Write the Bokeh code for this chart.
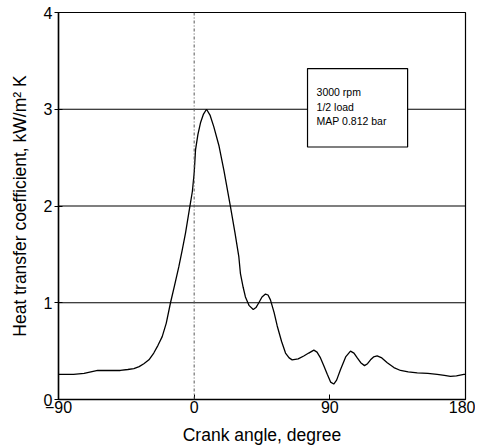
from bokeh.plotting import figure
from bokeh.models import FixedTicker, Span, BoxAnnotation, Label, Range1d
from bokeh.embed import file_html
from bokeh.resources import INLINE

crank_angle = [-90, -80, -73, -64, -56, -49, -44, -40, -36.5, -33.4, -30, -26.8, -24, -21.2, -18.5, -15.7, -13,
               -10.2, -8, -5.75, -2.9, -1.2, 0, 0.9, 2.5, 4.2, 6.2, 8.2, 10.5, 13, 16.5, 19.7, 24.1, 27, 29.6,
               30.7, 32.5, 34, 36.5, 39.2, 41, 42.9, 45, 47.3, 49, 50.6, 53, 55.1, 58, 60.6, 63, 65, 69, 72.7,
               76, 79.4, 81.5, 83.8, 86, 88.3, 90.5, 92.6, 94.5, 97.1, 100.5, 103.7, 106, 108.2, 110.5, 113,
               115, 117, 119, 121.4, 124.5, 128.1, 132.5, 136.9, 142, 148, 155, 161.2, 166, 170, 174, 178.9, 180]
htc = [0.26, 0.26, 0.27, 0.30, 0.30, 0.30, 0.31, 0.32, 0.34, 0.37, 0.41, 0.48, 0.56, 0.65, 0.79, 1.00, 1.18,
       1.37, 1.54, 1.72, 1.99, 2.15, 2.34, 2.58, 2.74, 2.86, 2.95, 3.00, 2.94, 2.82, 2.62, 2.37, 1.99, 1.73, 1.48,
       1.30, 1.16, 1.06, 0.97, 0.93, 0.95, 1.00, 1.06, 1.09, 1.08, 1.03, 0.90, 0.76, 0.60, 0.48, 0.43, 0.41, 0.42, 0.45,
       0.48, 0.51, 0.49, 0.43, 0.35, 0.26, 0.18, 0.16, 0.20, 0.31, 0.44, 0.50, 0.48, 0.43, 0.38, 0.35,
       0.37, 0.41, 0.44, 0.45, 0.43, 0.38, 0.33, 0.30, 0.285, 0.275, 0.27, 0.26, 0.25, 0.24, 0.245, 0.26, 0.26]

x_ticks = [-90, 0, 90, 180]
y_ticks = [0, 1, 2, 3, 4]
grid_levels = [1, 2, 3]
note_lines = ["3000 rpm", "1/2 load", "MAP 0.812 bar"]

FONT = "Liberation Sans"

p = figure(width=475, height=447, output_backend="svg", toolbar_location=None,
           x_range=Range1d(-90, 180), y_range=Range1d(0, 4),
           min_border_left=58, min_border_right=10, min_border_top=12, min_border_bottom=47)
p.xgrid.visible = False
p.ygrid.visible = False
p.outline_line_color = "black"
p.outline_line_width = 1.2
p.background_fill_color = "white"
p.border_fill_color = "white"

for lv in grid_levels:
    p.add_layout(Span(location=lv, dimension="width", line_color="black", line_width=1.2))
p.add_layout(Span(location=0, dimension="height", line_color="#555555", line_width=1, line_dash="3 2 1 2"))

p.line(crank_angle, htc, line_color="black", line_width=1.3)

p.add_layout(BoxAnnotation(left=75.2, right=141.6, bottom=2.61, top=3.42,
                           fill_color="white", fill_alpha=1.0, line_color="black", line_alpha=1.0,
                           line_width=1.2))
for i, t in enumerate(note_lines):
    p.add_layout(Label(x=81.2, y=3.175 - i * 0.15, text=t, text_font=FONT, text_font_size="10.5px",
                       text_color="black", text_baseline="middle"))

p.xaxis.ticker = FixedTicker(ticks=x_ticks)
p.yaxis.ticker = FixedTicker(ticks=y_ticks)
for ax in (p.xaxis[0], p.yaxis[0]):
    ax.axis_line_color = "black"
    ax.axis_line_width = 1.5
    ax.major_tick_line_color = "black"
    ax.minor_tick_line_color = None
    ax.major_label_text_font = FONT
    ax.major_label_text_font_size = "16px"
    ax.major_label_text_color = "black"
    ax.axis_label_text_font = FONT
    ax.axis_label_text_font_style = "normal"
    ax.axis_label_text_color = "black"
    ax.axis_label_text_font_size = "17.5px"

p.xaxis.axis_label = "Crank angle, degree"
p.xaxis.major_tick_in = 5
p.xaxis.major_tick_out = 0
p.xaxis.major_label_standoff = 1
p.xaxis.axis_label_standoff = 9

p.yaxis.axis_label = "Heat transfer coefficient, kW/m² K"
p.yaxis.major_tick_in = 4
p.yaxis.major_tick_out = 4
p.yaxis.major_label_standoff = 2
p.yaxis.axis_label_standoff = 11

open("out.html", "w").write(file_html(p, INLINE))
